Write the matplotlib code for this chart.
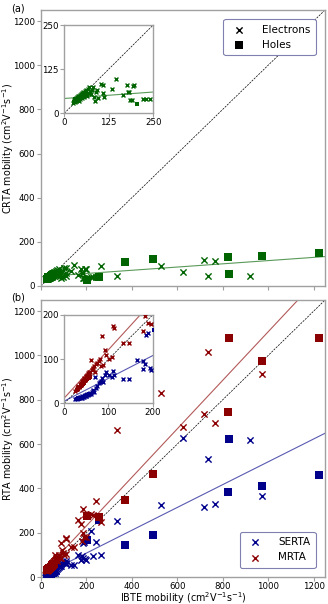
import numpy as np
import matplotlib
matplotlib.use("Agg")
import matplotlib.pyplot as plt

nan = np.nan
# Electrons: IBTE, CRTA, SERTA, MRTA mobilities (cm^2/Vs)
elec_ibte = [734, 971, 526, 336, 716, 767, 627, 918, 263, 240, 231, 222, 196, 194, 190, 186, 183, 179, 177, 164,
             146, 133, 112, 110, 108, 102, 95, 91, 88, 86, 84, 80, 78, 75, 72, 70, 68, 66, 64, 62, 60, 58, 56, 55,
             53, 52, 50, 49, 48, 46, 45, 44, 42, 41, 40, 38, 37, 35, 34, 32, 30, 28, 25]
elec_crta = [44, 138, 92, 47, 118, 114, 62, 47, 92, 40, 40, 40, 79, 77, 38, 38, 61, 60, 79, 52,
             97, 69, 47, 58, 80, 83, 42, 66, 60, 36, 45, 75, 66, 55, 62, 74, 70, 58, 48, 65, 52, 62, 45, 56,
             50, 60, 42, 58, 47, 55, 40, 52, 44, 50, 35, 48, 40, 45, 36, 42, 33, 38, 30]
elec_serta = [534, 367, 326, 253, 315, 329, 629, 620, 99, 159, 95, 209, 76, 80, 159, 155, 88, 96, 78, 98,
              54, 54, 65, 73, 60, 63, 72, 63, 49, 57, 50, 48, 45, 40, 35, 60, 25, 30, 28, 26, 20, 24, 22, 21,
              18, 20, 17, 19, 16, 18, 15, 17, 14, 16, 13, 15, 12, 14, 13, 11, 12, 10, 9]
elec_mrta = [1015, 917, 832, 665, 735, 695, 675, nan, 250, 345, 280, 283, 180, 283, 182, 308, 198, 164, 238, 255,
             137, 137, 170, 175, 105, 101, 110, 121, 87, 153, 85, 100, 95, 92, 88, 71, 85, 80, 78, 75, 98, 72, 70, 63,
             68, 65, 57, 62, 60, 53, 58, 55, 52, 48, 50, 42, 46, 44, 38, 40, 36, 33, 28]

# Holes
hole_ibte = [1225, 971, 827, 821, 494, 370, 257, 204, 58, 55, 52, 50, 47, 45, 42, 40, 37, 35, 32, 30, 28]
hole_crta = [148, 138, 53, 133, 121, 110, 42, 26, 56, 52, 50, 48, 46, 44, 42, 40, 38, 36, 35, 40, 33]
hole_serta = [462, 412, 624, 382, 190, 144, 255, 167, 22, 20, 18, 17, 16, 15, 14, 13, 12, 12, 11, 10, 10]
hole_mrta = [1079, 977, 1079, 745, 467, 347, 273, 277, 60, 57, 55, 52, 50, 47, 44, 42, 40, 37, 34, 32, 30]

# Linear fits (slope, intercept)
crta_fit = (0.073, 42)
serta_fit = (0.515, 5)
mrta_fit = (1.095, 12)

GREEN = "#006400"
BLUE = "#00008b"
RED = "#8b0000"
SPINE = "#a0a0a0"

plt.rcParams["font.family"] = "DejaVu Sans"

fig = plt.figure(figsize=(3.28, 6.04), dpi=100)
ax_a = fig.add_axes([0.125, 0.5265, 0.866, 0.457])
ax_b = fig.add_axes([0.125, 0.0447, 0.866, 0.4586])
in_a = fig.add_axes([0.196, 0.8124, 0.271, 0.1462])
in_b = fig.add_axes([0.196, 0.3323, 0.2695, 0.1462])

TICKFS = 6.2
LABFS = 6.9


def style(ax, fs):
    for s in ax.spines.values():
        s.set_color(SPINE)
        s.set_linewidth(1.0)
    ax.tick_params(colors=SPINE, labelcolor="black", labelsize=fs, length=3, width=0.8, pad=1.2)
    ax.tick_params(axis="x", pad=0.3)


def diag(ax, lim):
    xs = np.array([0, lim])
    ax.plot(xs, xs, color="black", lw=0.5, ls=(0, (3, 1.5)), zorder=1)


def fitline(ax, fit, lim, color):
    xs = np.array([0, lim])
    ax.plot(xs, fit[0] * xs + fit[1], color=color, lw=0.8, alpha=0.65, zorder=1)


# ---- panel (a)
lim = 1250
for ax, l, sx, ss in [(ax_a, lim, 20, 30), (in_a, 250, 8, 11)]:
    diag(ax, l)
    fitline(ax, crta_fit, l, GREEN)
    ax.scatter(elec_ibte, elec_crta, marker="x", s=sx, color=GREEN, linewidths=1.0, zorder=3)
    ax.scatter(hole_ibte, hole_crta, marker="s", s=ss, color=GREEN, linewidths=0, zorder=3)
    ax.set_xlim(0, l)
    ax.set_ylim(0, l)

ax_a.set_xticks(np.arange(0, 1201, 200))
ax_a.set_xticklabels([])
ax_a.set_yticks(np.arange(0, 1201, 200))
ax_a.set_ylabel("CRTA mobility (cm$^2$V$^{-1}$s$^{-1}$)", fontsize=LABFS)
ax_a.yaxis.set_label_coords(-0.088, 0.5)
in_a.set_xticks([0, 125, 250])
in_a.set_yticks([0, 125, 250])
style(ax_a, TICKFS)
style(in_a, TICKFS)

h1 = ax_a.scatter([], [], marker="x", s=20, color="black", linewidths=1.0, label="Electrons")
h2 = ax_a.scatter([], [], marker="s", s=30, color="black", linewidths=0, label="Holes")
leg = ax_a.legend(handles=[h1, h2], loc="upper right", fontsize=7.5, frameon=True, fancybox=True,
                  borderpad=0.5, handletextpad=1.2, labelspacing=0.5, bbox_to_anchor=(0.985, 0.985))
leg.get_frame().set_edgecolor("#8080b0")
leg.get_frame().set_linewidth(0.8)
leg.get_frame().set_alpha(1)

# ---- panel (b)
for ax, l, sx, ss in [(ax_b, lim, 20, 30), (in_b, 200, 8, 11)]:
    diag(ax, l)
    fitline(ax, serta_fit, l, BLUE)
    fitline(ax, mrta_fit, l, RED)
    ax.scatter(elec_ibte, elec_serta, marker="x", s=sx, color=BLUE, linewidths=1.0, zorder=3)
    ax.scatter(hole_ibte, hole_serta, marker="s", s=ss, color=BLUE, linewidths=0, zorder=3)
    ax.scatter(elec_ibte, elec_mrta, marker="x", s=sx, color=RED, linewidths=1.0, zorder=3)
    ax.scatter(hole_ibte, hole_mrta, marker="s", s=ss, color=RED, linewidths=0, zorder=3)
    ax.set_xlim(0, l)
    ax.set_ylim(0, l)

ax_b.set_xticks(np.arange(0, 1201, 200))
ax_b.set_yticks(np.arange(0, 1201, 200))
ax_b.set_ylabel("RTA mobility (cm$^2$V$^{-1}$s$^{-1}$)", fontsize=LABFS)
ax_b.yaxis.set_label_coords(-0.088, 0.5)
ax_b.set_xlabel("IBTE mobility (cm$^2$V$^{-1}$s$^{-1}$)", fontsize=LABFS)
ax_b.xaxis.set_label_coords(0.5, -0.046)
in_b.set_xticks([0, 100, 200])
in_b.set_yticks([0, 100, 200])
style(ax_b, TICKFS)
style(in_b, TICKFS)

h3 = ax_b.scatter([], [], marker="x", s=20, color=BLUE, linewidths=1.0, label="SERTA")
h4 = ax_b.scatter([], [], marker="x", s=20, color=RED, linewidths=1.0, label="MRTA")
leg2 = ax_b.legend(handles=[h3, h4], loc="lower right", fontsize=7.5, frameon=True, fancybox=True,
                   borderpad=0.5, handletextpad=1.2, labelspacing=0.5, bbox_to_anchor=(0.985, 0.015))
leg2.get_frame().set_edgecolor("#8080b0")
leg2.get_frame().set_linewidth(0.8)
leg2.get_frame().set_alpha(1)

fig.text(0.035, 0.995, "(a)", fontsize=7, va="top", ha="left")
fig.text(0.035, 0.515, "(b)", fontsize=7, va="top", ha="left")

fig.savefig("out.png", dpi=100)
